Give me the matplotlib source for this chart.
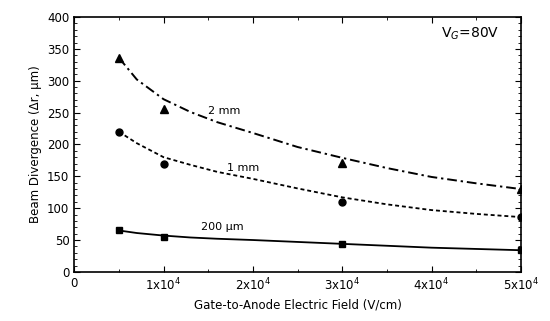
import matplotlib.pyplot as plt
from matplotlib.ticker import MultipleLocator, FixedLocator

plt.rcParams['font.family'] = ['DejaVu Sans']

# measured points
field = [5000, 10000, 30000, 50000]
d_200um = [65, 55, 44, 34]
d_1mm = [220, 169, 110, 86]
d_2mm = [336, 256, 171, 130]

# fitted curves
fit_x = [5000, 7000, 10000, 13000, 16000, 20000, 25000, 30000, 35000, 40000, 45000, 50000]
fit_200um = [65, 61, 57, 54, 52, 50, 47, 44, 41, 38, 36, 34]
fit_1mm = [220, 202, 180, 168, 157, 146, 131, 117, 106, 97, 91, 86]
fit_2mm = [336, 302, 271, 251, 235, 218, 196, 179, 163, 149, 139, 130]

xticks = [0, 10000, 20000, 30000, 40000, 50000]
xticklabels = ['0', r'1x10$^4$', r'2x10$^4$', r'3x10$^4$', r'4x10$^4$', r'5x10$^4$']

fig = plt.figure(figsize=(5.5, 3.21), dpi=100)
ax = fig.add_axes([0.135, 0.153, 0.812, 0.794])

ax.plot(fit_x, fit_200um, color='black', lw=1.3, ls='-')
ax.plot(fit_x, fit_1mm, color='black', lw=1.3, ls=(0, (2.2, 1.6)))
ax.plot(fit_x, fit_2mm, color='black', lw=1.4, ls=(0, (5, 2, 1.2, 2)))

ax.plot(field, d_200um, 's', color='black', ms=5)
ax.plot(field, d_1mm, 'o', color='black', ms=5)
ax.plot(field, d_2mm, '^', color='black', ms=6)

ax.text(15000, 253, '2 mm', fontsize=8, va='center')
ax.text(17100, 163, '1 mm', fontsize=8, va='center')
ax.text(14200, 71, '200 µm', fontsize=8, va='center')
ax.text(44300, 373, r'V$_G$=80V', fontsize=10, ha='center', va='center')

ax.set_xlim(0, 50000)
ax.set_ylim(0, 400)
ax.xaxis.set_major_locator(FixedLocator(xticks))
ax.set_xticklabels(xticklabels)
ax.xaxis.set_minor_locator(MultipleLocator(5000))
ax.yaxis.set_major_locator(MultipleLocator(50))
ax.yaxis.set_minor_locator(MultipleLocator(10))
ax.tick_params(which='both', direction='in', top=True, right=True, labelsize=8.5)
ax.tick_params(which='major', length=4)
ax.tick_params(which='minor', length=2)
for s in ax.spines.values():
    s.set_linewidth(1.2)

ax.set_xlabel('Gate-to-Anode Electric Field (V/cm)', fontsize=8.5)
ax.set_ylabel('Beam Divergence (Δr, µm)', fontsize=8.5)

fig.savefig('out.png', dpi=100)
